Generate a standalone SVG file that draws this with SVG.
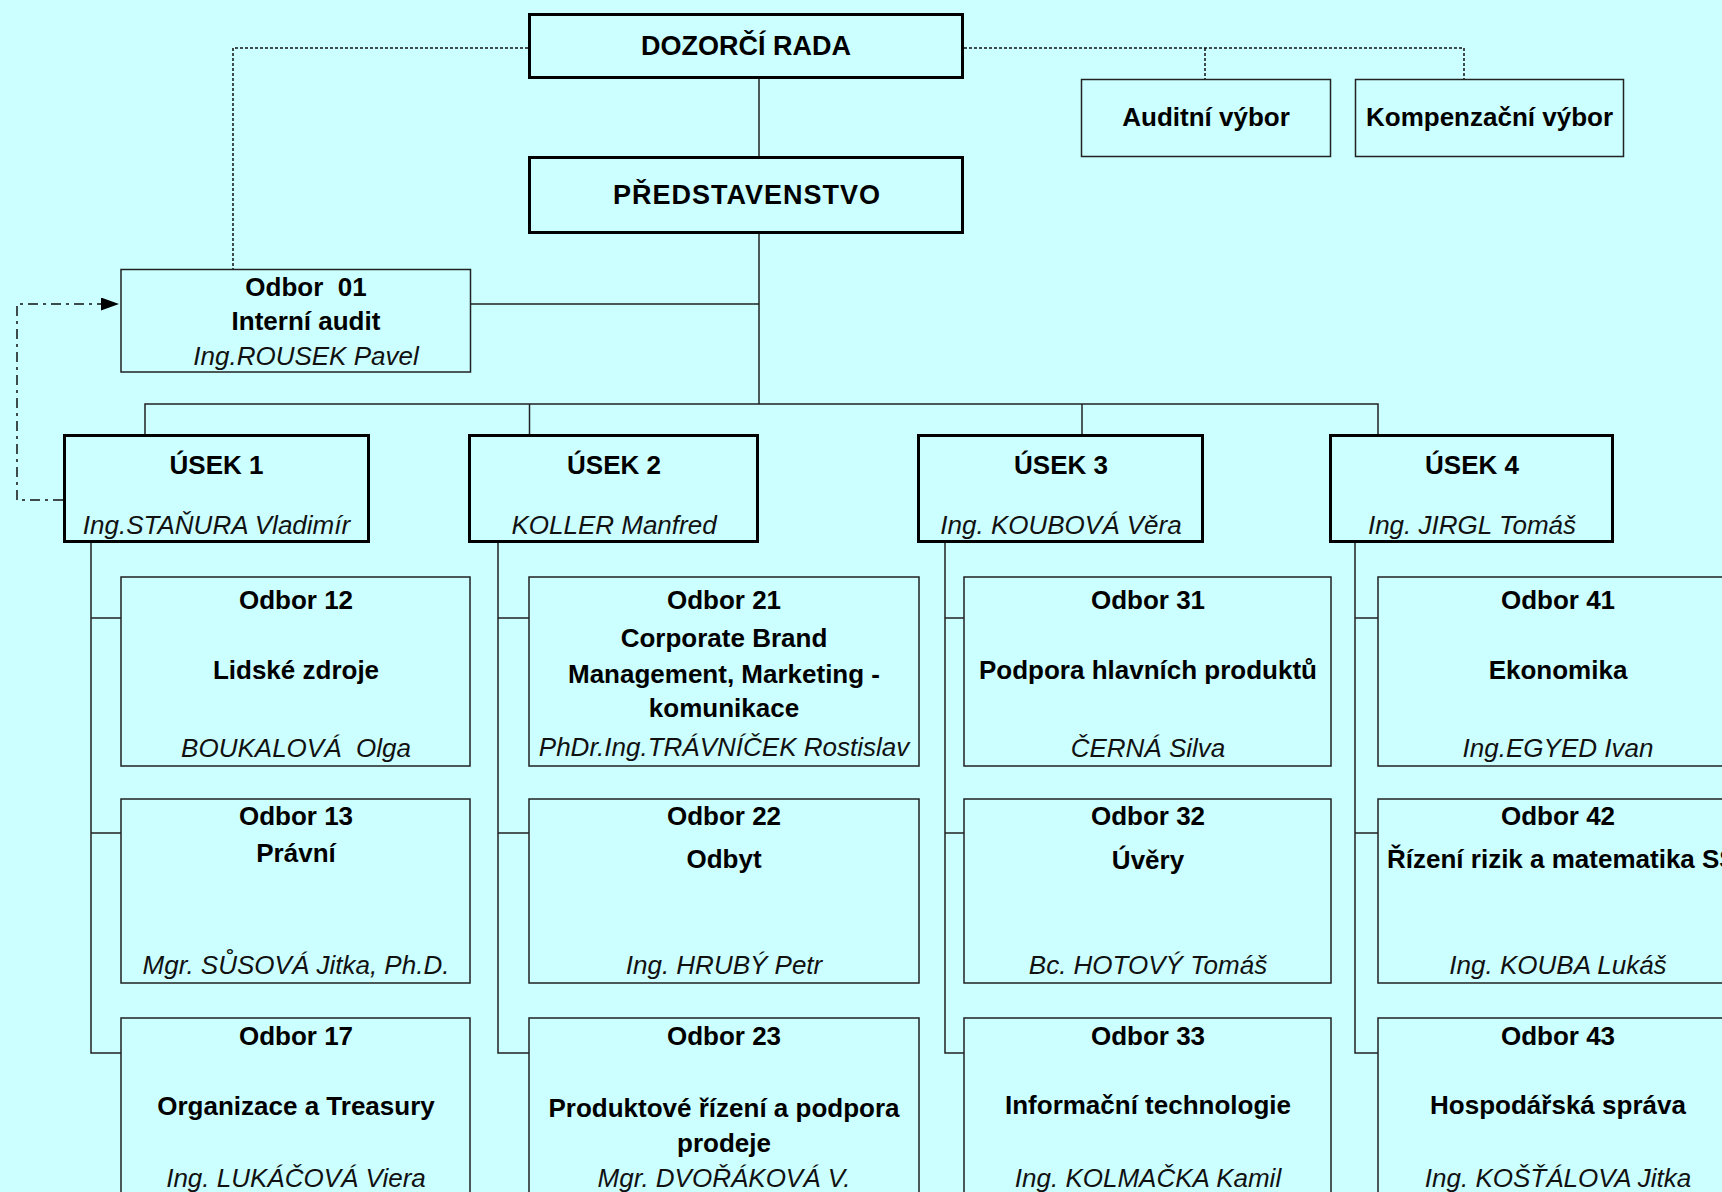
<svg xmlns="http://www.w3.org/2000/svg" width="1722" height="1192" viewBox="0 0 1722 1192">
<style>
text{font-family:"Liberation Sans",Arial,sans-serif;font-size:26px;fill:#000;text-anchor:middle;white-space:pre}
.b{font-weight:bold}
.i{font-style:italic;fill:#111}
.top{font-size:27px}
.box{fill:#CCFFFF;stroke:#222;stroke-width:1.5}
.thick{fill:#CCFFFF;stroke:#000;stroke-width:3}
.ln{fill:none;stroke:#222;stroke-width:1.5}
.dot{fill:none;stroke:#111;stroke-width:1.5;stroke-dasharray:3 2}
.dd{fill:none;stroke:#111;stroke-width:1.5;stroke-dasharray:10 5 3 5}
</style>
<defs>
<marker id="arr" viewBox="0 0 10 10" refX="10" refY="5" markerWidth="18" markerHeight="13" markerUnits="userSpaceOnUse" orient="auto" preserveAspectRatio="none">
<path d="M0 0 L10 5 L0 10 Z" fill="#000"/>
</marker>
</defs>
<rect x="0" y="0" width="1722" height="1192" fill="#CCFFFF"/>

<g id="connectors">
<path class="ln" d="M759 79 V156"/>
<path class="ln" d="M759 234 V404"/>
<path class="ln" d="M471 304 H759"/>
<path class="ln" d="M145 434 V404 H1378 V434"/>
<path class="ln" d="M529.5 404 V434"/>
<path class="ln" d="M1082 404 V434"/>
<path class="ln" d="M91 543 V1053 H121 M91 618 H121 M91 833 H121"/>
<path class="ln" d="M498 543 V1053 H529 M498 618 H529 M498 833 H529"/>
<path class="ln" d="M945 543 V1053 H964 M945 618 H964 M945 833 H964"/>
<path class="ln" d="M1355 543 V1053 H1378 M1355 618 H1378 M1355 833 H1378"/>
<path class="dot" d="M528 48 H233 V269"/>
<path class="dot" d="M964 48 H1464 V79 M1205 48 V79"/>
<path class="dd" d="M63 500 H17 V304 H119" marker-end="url(#arr)"/>
</g>

<g id="dozorci-rada">
<rect class="thick" x="529.5" y="14.5" width="433" height="63"/>
<text class="b top" x="746" y="55">DOZORČÍ RADA</text>
</g>
<g id="predstavenstvo">
<rect class="thick" x="529.5" y="157.5" width="433" height="75"/>
<text class="b top" x="747" y="204" letter-spacing="1">PŘEDSTAVENSTVO</text>
</g>
<g id="auditni-vybor">
<rect class="box" x="1081.5" y="79.5" width="249" height="77"/>
<text class="b" x="1206" y="126">Auditní výbor</text>
</g>
<g id="kompenzacni-vybor">
<rect class="box" x="1355.5" y="79.5" width="268" height="77"/>
<text class="b" x="1489.5" y="126">Kompenzační výbor</text>
</g>
<g id="odbor-01">
<rect class="box" x="121" y="269.5" width="349.5" height="102.5"/>
<text class="b" x="306" y="296">Odbor  01</text>
<text class="b" x="306" y="330">Interní audit</text>
<text class="i" x="306" y="365">Ing.ROUSEK Pavel</text>
</g>

<g id="usek-1">
<rect class="thick" x="64.5" y="435.5" width="304" height="106"/>
<text class="b" x="216.5" y="474">ÚSEK 1</text>
<text class="i" x="216.5" y="534">Ing.STAŇURA Vladimír</text>
</g>
<g id="usek-2">
<rect class="thick" x="469.5" y="435.5" width="288" height="106"/>
<text class="b" x="614" y="474">ÚSEK 2</text>
<text class="i" x="614" y="534">KOLLER Manfred</text>
</g>
<g id="usek-3">
<rect class="thick" x="918.5" y="435.5" width="284" height="106"/>
<text class="b" x="1061" y="474">ÚSEK 3</text>
<text class="i" x="1061" y="534">Ing. KOUBOVÁ Věra</text>
</g>
<g id="usek-4">
<rect class="thick" x="1330.5" y="435.5" width="282" height="106"/>
<text class="b" x="1472" y="474">ÚSEK 4</text>
<text class="i" x="1472" y="534">Ing. JIRGL Tomáš</text>
</g>

<g id="odbor-12">
<rect class="box" x="121" y="577" width="349" height="189"/>
<text class="b" x="296" y="609">Odbor 12</text>
<text class="b" x="296" y="679">Lidské zdroje</text>
<text class="i" x="296" y="757">BOUKALOVÁ  Olga</text>
</g>
<g id="odbor-13">
<rect class="box" x="121" y="799" width="349" height="184"/>
<text class="b" x="296" y="825">Odbor 13</text>
<text class="b" x="296" y="862">Právní</text>
<text class="i" x="296" y="974">Mgr. SŮSOVÁ Jitka, Ph.D.</text>
</g>
<g id="odbor-17">
<rect class="box" x="121" y="1018" width="349" height="200"/>
<text class="b" x="296" y="1045">Odbor 17</text>
<text class="b" x="296" y="1115">Organizace a Treasury</text>
<text class="i" x="296" y="1187">Ing. LUKÁČOVÁ Viera</text>
</g>

<g id="odbor-21">
<rect class="box" x="529" y="577" width="390" height="189"/>
<text class="b" x="724" y="609">Odbor 21</text>
<text class="b" x="724" y="647">Corporate Brand</text>
<text class="b" x="724" y="683">Management, Marketing -</text>
<text class="b" x="724" y="717">komunikace</text>
<text class="i" x="724" y="756">PhDr.Ing.TRÁVNÍČEK Rostislav</text>
</g>
<g id="odbor-22">
<rect class="box" x="529" y="799" width="390" height="184"/>
<text class="b" x="724" y="825">Odbor 22</text>
<text class="b" x="724" y="868">Odbyt</text>
<text class="i" x="724" y="974">Ing. HRUBÝ Petr</text>
</g>
<g id="odbor-23">
<rect class="box" x="529" y="1018" width="390" height="200"/>
<text class="b" x="724" y="1045">Odbor 23</text>
<text class="b" x="724" y="1117">Produktové řízení a podpora</text>
<text class="b" x="724" y="1152">prodeje</text>
<text class="i" x="724" y="1187">Mgr. DVOŘÁKOVÁ V.</text>
</g>

<g id="odbor-31">
<rect class="box" x="964" y="577" width="367" height="189"/>
<text class="b" x="1148" y="609">Odbor 31</text>
<text class="b" x="1148" y="679">Podpora hlavních produktů</text>
<text class="i" x="1148" y="757">ČERNÁ Silva</text>
</g>
<g id="odbor-32">
<rect class="box" x="964" y="799" width="367" height="184"/>
<text class="b" x="1148" y="825">Odbor 32</text>
<text class="b" x="1148" y="869">Úvěry</text>
<text class="i" x="1148" y="974">Bc. HOTOVÝ Tomáš</text>
</g>
<g id="odbor-33">
<rect class="box" x="964" y="1018" width="367" height="200"/>
<text class="b" x="1148" y="1045">Odbor 33</text>
<text class="b" x="1148" y="1114">Informační technologie</text>
<text class="i" x="1148" y="1187">Ing. KOLMAČKA Kamil</text>
</g>

<g id="odbor-41">
<rect class="box" x="1378" y="577" width="360" height="189"/>
<text class="b" x="1558" y="609">Odbor 41</text>
<text class="b" x="1558" y="679">Ekonomika</text>
<text class="i" x="1558" y="757">Ing.EGYED Ivan</text>
</g>
<g id="odbor-42">
<rect class="box" x="1378" y="799" width="360" height="184"/>
<text class="b" x="1558" y="825">Odbor 42</text>
<text class="b" x="1387" y="868" style="text-anchor:start">Řízení rizik a matematika SS</text>
<text class="i" x="1558" y="974">Ing. KOUBA Lukáš</text>
</g>
<g id="odbor-43">
<rect class="box" x="1378" y="1018" width="360" height="200"/>
<text class="b" x="1558" y="1045">Odbor 43</text>
<text class="b" x="1558" y="1114">Hospodářská správa</text>
<text class="i" x="1558" y="1187">Ing. KOŠŤÁLOVA Jitka</text>
</g>
</svg>
